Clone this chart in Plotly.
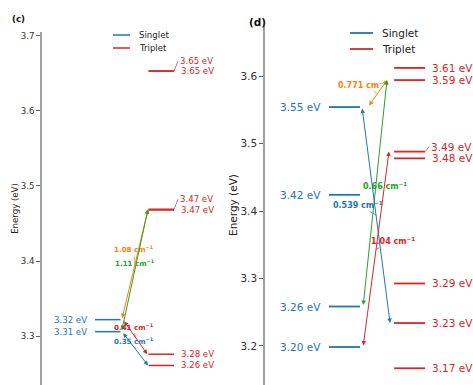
import plotly.graph_objects as go

FONT = "DejaVu Sans"
BLUE = "#1f77b4"
RED = "#d62728"
GREEN = "#2ca02c"
ORANGE = "#ff7f0e"
W, H = 473, 385

# ---------------- data: panel (c) ----------------
c_singlet_eV = [3.322, 3.306]
c_triplet_eV = [3.653, 3.653, 3.469, 3.468, 3.276, 3.261]
c_tr_singlet = [0, 1, 0, 1]          # singlet index of each transition
c_tr_triplet = [2, 2, 4, 5]          # triplet index of each transition
c_tr_rate = ["1.08", "1.11", "0.41", "0.35"]
c_tr_color = [ORANGE, GREEN, RED, BLUE]

# ---------------- data: panel (d) ----------------
d_singlet_eV = [3.554, 3.424, 3.2585, 3.1985]
d_triplet_eV = [3.612, 3.594, 3.488, 3.478, 3.2926, 3.234, 3.167]
d_tr_singlet = [0, 2, 0, 3]
d_tr_triplet = [1, 1, 5, 2]
d_tr_rate = ["0.771", "0.66", "0.539", "1.04"]
d_tr_color = [ORANGE, GREEN, BLUE, RED]

# ---------------- layout / style ----------------
S_X = (0.0, 1.0)     # singlet column
T_X = (2.1, 3.1)     # triplet column

panels = [
    dict(xa="x", ya="y", singlet=c_singlet_eV, triplet=c_triplet_eV,
         trs=c_tr_singlet, trt=c_tr_triplet, rate=c_tr_rate, col=c_tr_color,
         inset=[(0.05, 0.02), (0.04, 0.02), (0.10, 0.05), (0.06, 0.02)],
         lab_off=[(-1, -15), (0, -7), (-1, -10), (-1, -8)],
         t_lab=[(10, True), (0, False), (10, True), (0, False), (0, False), (0, False)],
         s_lab=[0, 0],
         fs=8.6, bfs=7.1, lw=1.5,
         xdom=(42, 225), x0px=95, ppu=25.5, ytop=32, yr=(3.235, 3.705),
         ticks=[3.3, 3.4, 3.5, 3.6, 3.7], standoff=1,
         leg=(113, 130, 137, 35, 48), tag="(c)", tagpos=(10, 19)),
    dict(xa="x2", ya="y2", singlet=d_singlet_eV, triplet=d_triplet_eV,
         trs=d_tr_singlet, trt=d_tr_triplet, rate=d_tr_rate, col=d_tr_color,
         inset=[(0.26, 0.23), (0.10, 0.23), (0.065, 0.13), (0.10, 0.165)],
         lab_off=[(-15, -9), (10, -7), (-18, -10), (17, -8)],
         t_lab=[(0, False), (0, False), (5, True), (0, False), (0, False), (0, False), (0, False)],
         s_lab=[0, 0, 0, 0],
         fs=10.5, bfs=8.0, lw=1.8,
         xdom=(265, 473), x0px=329, ppu=31.0, ytop=25, yr=(3.1422, 3.6756),
         ticks=[3.2, 3.3, 3.4, 3.5, 3.6], standoff=1,
         leg=(350, 373, 380, 33, 49), tag="(d)", tagpos=(247, 22)),
]

fig = go.Figure()
annotations = []
shapes = []
layout_axes = {}

for i, p in enumerate(panels):
    xa, ya = p["xa"], p["ya"]
    # level lines
    for vals, cols, color, name in [(p["singlet"], S_X, BLUE, "Singlet"),
                                    (p["triplet"], T_X, RED, "Triplet")]:
        xs, ys = [], []
        for v in vals:
            xs += [cols[0], cols[1], None]
            ys += [v, v, None]
        fig.add_trace(go.Scatter(x=xs, y=ys, mode="lines", name=name,
                                 line=dict(color=color, width=p["lw"]),
                                 xaxis=xa, yaxis=ya, showlegend=False,
                                 hoverinfo="skip"))
    # level labels
    for v, ysh in zip(p["singlet"], p["s_lab"]):
        annotations.append(dict(x=S_X[0], y=v, xref=xa, yref=ya,
                                text=f"{v:.2f} eV", showarrow=False,
                                xanchor="right", yanchor="middle", xshift=-6, yshift=ysh,
                                font=dict(family=FONT, size=p["fs"], color=BLUE)))
    for v, (ysh, leader) in zip(p["triplet"], p["t_lab"]):
        if leader:
            annotations.append(dict(x=T_X[1], y=v, xref=xa, yref=ya,
                                    text=f"{v:.2f} eV", showarrow=True,
                                    arrowhead=0, arrowwidth=0.7, arrowcolor=RED,
                                    ax=4, ay=-ysh, xanchor="left", yanchor="middle",
                                    standoff=0,
                                    font=dict(family=FONT, size=p["fs"], color=RED)))
        else:
            annotations.append(dict(x=T_X[1], y=v, xref=xa, yref=ya,
                                    text=f"{v:.2f} eV", showarrow=False,
                                    xanchor="left", yanchor="middle", xshift=5,
                                    font=dict(family=FONT, size=p["fs"], color=RED)))
    # transitions
    for s, t, rate, col, (a, b), (ox, oy) in zip(p["trs"], p["trt"], p["rate"], p["col"],
                                                 p["inset"], p["lab_off"]):
        x1, y1 = S_X[1] + a, p["singlet"][s]
        x2, y2 = T_X[0] - b, p["triplet"][t]
        annotations.append(dict(x=x2, y=y2, ax=x1, ay=y1, xref=xa, yref=ya,
                                axref=xa, ayref=ya, showarrow=True, text="",
                                arrowhead=2, startarrowhead=2, arrowside="end+start",
                                arrowsize=0.9, startarrowsize=0.9, arrowwidth=1,
                                arrowcolor=col, standoff=0, startstandoff=0))
        mx, my = (x1 + x2) / 2, (y1 + y2) / 2
        annotations.append(dict(x=mx, y=my, xref=xa, yref=ya,
                                text=f"<b>{rate} cm<sup>−1</sup></b>",
                                showarrow=True, arrowhead=0, arrowwidth=0.7,
                                arrowcolor=col, ax=ox, ay=oy, standoff=0,
                                font=dict(family=FONT, size=p["bfs"], color=col)))
    # axes
    x0d, x1d = p["xdom"]
    xr0 = -(p["x0px"] - x0d) / p["ppu"]
    xr1 = (x1d - p["x0px"]) / p["ppu"]
    sfx = "" if i == 0 else "2"
    layout_axes["xaxis" + sfx] = dict(domain=[x0d / W, x1d / W], range=[xr0, xr1],
                                      visible=False, anchor=ya)
    layout_axes["yaxis" + sfx] = dict(domain=[0, 1 - p["ytop"] / H], range=list(p["yr"]),
                                      anchor=xa, showline=True, linecolor="#a0a0a0",
                                      linewidth=1.5, ticks="outside", ticklen=4,
                                      tickcolor="#606060", tickwidth=1,
                                      tickvals=p["ticks"],
                                      ticktext=[f"{v:.1f}" for v in p["ticks"]],
                                      showgrid=False, zeroline=False,
                                      tickfont=dict(family=FONT, size=p["fs"], color="#333333"),
                                      title=dict(text="Energy (eV)", standoff=p["standoff"],
                                                 font=dict(family=FONT, size=p["fs"], color="#222222")))
    # legend (manual)
    lx0, lx1, tx, ly1, ly2 = p["leg"]
    for ly, color, name in [(ly1, BLUE, "Singlet"), (ly2, RED, "Triplet")]:
        shapes.append(dict(type="line", xref="paper", yref="paper",
                           x0=lx0 / W, x1=lx1 / W, y0=1 - ly / H, y1=1 - ly / H,
                           line=dict(color=color, width=p["lw"])))
        annotations.append(dict(x=tx / W, y=1 - ly / H, xref="paper", yref="paper",
                                text=name, showarrow=False, xanchor="left", yanchor="middle",
                                font=dict(family=FONT, size=p["fs"], color="#222222")))
    # panel tag
    annotations.append(dict(x=p["tagpos"][0] / W, y=1 - p["tagpos"][1] / H,
                            xref="paper", yref="paper", text=f"<b>{p['tag']}</b>",
                            showarrow=False, xanchor="left", yanchor="middle",
                            font=dict(family=FONT, size=p["fs"], color="#111111")))

fig.update_layout(width=W, height=H, autosize=False,
                  margin=dict(l=0, r=0, t=0, b=0),
                  paper_bgcolor="white", plot_bgcolor="white",
                  showlegend=False, annotations=annotations, shapes=shapes,
                  **layout_axes)

fig.write_html("out.html", config={"displayModeBar": False},
               post_script="document.body.style.margin='0';document.body.style.padding='0';document.body.style.overflow='hidden';")
